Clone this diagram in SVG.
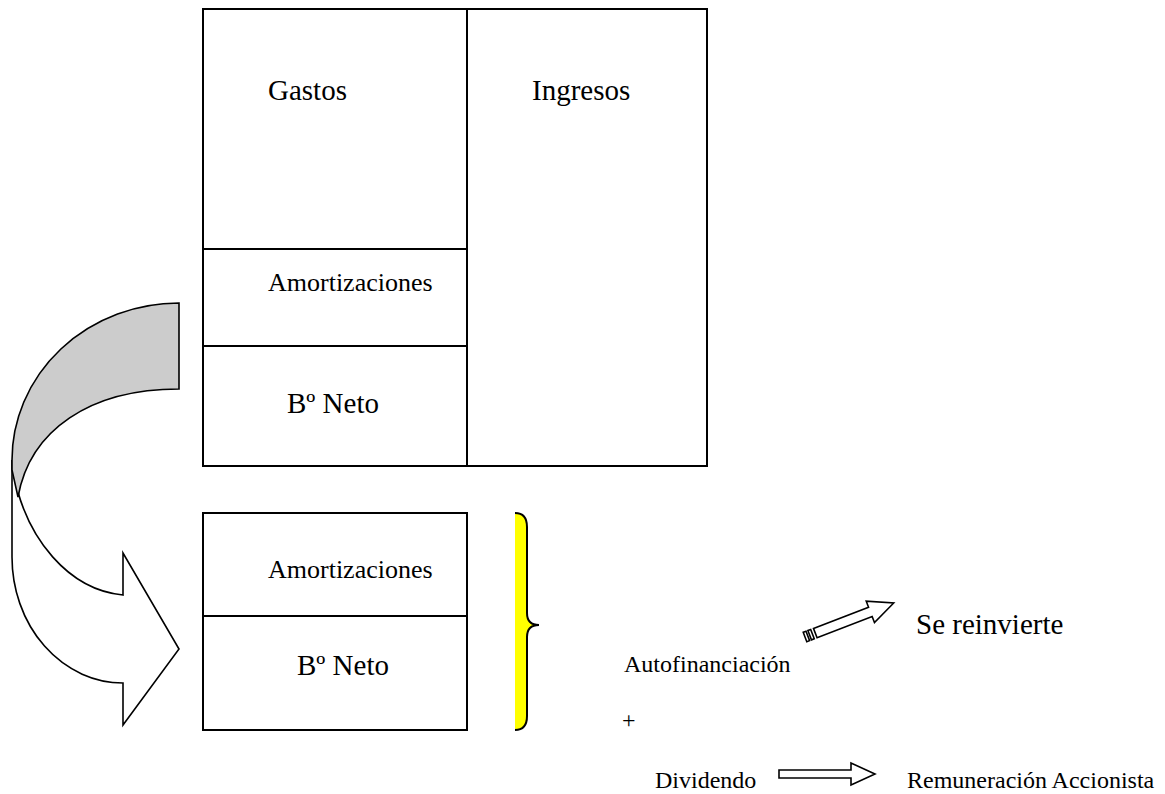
<svg xmlns="http://www.w3.org/2000/svg" width="1165" height="794" viewBox="0 0 1165 794">
<style>
.box{fill:#fff;stroke:#000;stroke-width:2}
.ln{stroke:#000;stroke-width:2;fill:none}
.t{font-family:"Liberation Serif","Times New Roman",serif;fill:#000}
.big{font-size:29px}
.mid{font-size:26px}
.sm{font-size:24px}
.arr{fill:#fff;stroke:#000;stroke-width:1.6;stroke-linejoin:miter}
</style>
<rect width="1165" height="794" fill="#fff"/>
<g id="cuenta">
<rect class="box" x="203" y="9" width="504" height="457"/>
<line class="ln" x1="467" y1="9" x2="467" y2="466"/>
<line class="ln" x1="203" y1="249" x2="467" y2="249"/>
<line class="ln" x1="203" y1="346" x2="467" y2="346"/>
</g>
<g id="gastos"><text class="t big" x="268" y="100">Gastos</text></g>
<g id="ingresos"><text class="t big" x="532" y="100">Ingresos</text></g>
<g id="amort1"><text class="t mid" x="268" y="291">Amortizaciones</text></g>
<g id="neto1"><text class="t big" x="287" y="413">Bº Neto</text></g>
<g id="caja2">
<rect class="box" x="203" y="513" width="264" height="217"/>
<line class="ln" x1="203" y1="616" x2="467" y2="616"/>
<text class="t mid" x="268" y="578">Amortizaciones</text>
<text class="t big" x="297" y="675">Bº Neto</text>
</g>
<g id="llave">
<path d="M515,513 Q527,513 527,527 L527,613 Q527,625 539,625 Q527,625 527,637 L527,716 Q527,730 515,730 Z" fill="#ffff00"/>
<path d="M515,513 Q527,513 527,527 L527,613 Q527,625 539,625 Q527,625 527,637 L527,716 Q527,730 515,730" fill="none" stroke="#000" stroke-width="2"/>
</g>
<g id="conectores">
<path class="arr" d="M12,460 L12,557 A111,126 0 0 0 123,683 L123,725 L179,649 L123,553 L123,595 C70,590 25,540 13,470 Z"/>
<path class="arr" style="fill:#cccccc" d="M179,303 L179,389 C90,389 30,430 18,497 L12,470 L12,460 A167,157 0 0 1 179,303 Z"/>
<g transform="translate(805,637) rotate(-21)">
<rect class="arr" x="0" y="-5" width="3" height="10"/>
<rect class="arr" x="5" y="-5" width="3" height="10"/>
<polygon class="arr" points="11,-5 70,-5 70,-11.5 95,0 70,11.5 70,5 11,5"/>
</g>
<polygon class="arr" points="779,770 851,770 851,763 875,774 851,785 851,778 779,778"/>
</g>
<g id="autof"><text class="t sm" x="624" y="672">Autofinanciación</text></g>
<g id="reinv"><text class="t big" x="916" y="634">Se reinvierte</text></g>
<g id="mas"><text class="t sm" x="622" y="728">+</text></g>
<g id="divid"><text class="t sm" x="655" y="788">Dividendo</text></g>
<g id="remun"><text class="t sm" x="907" y="788">Remuneración Accionista</text></g>
</svg>
